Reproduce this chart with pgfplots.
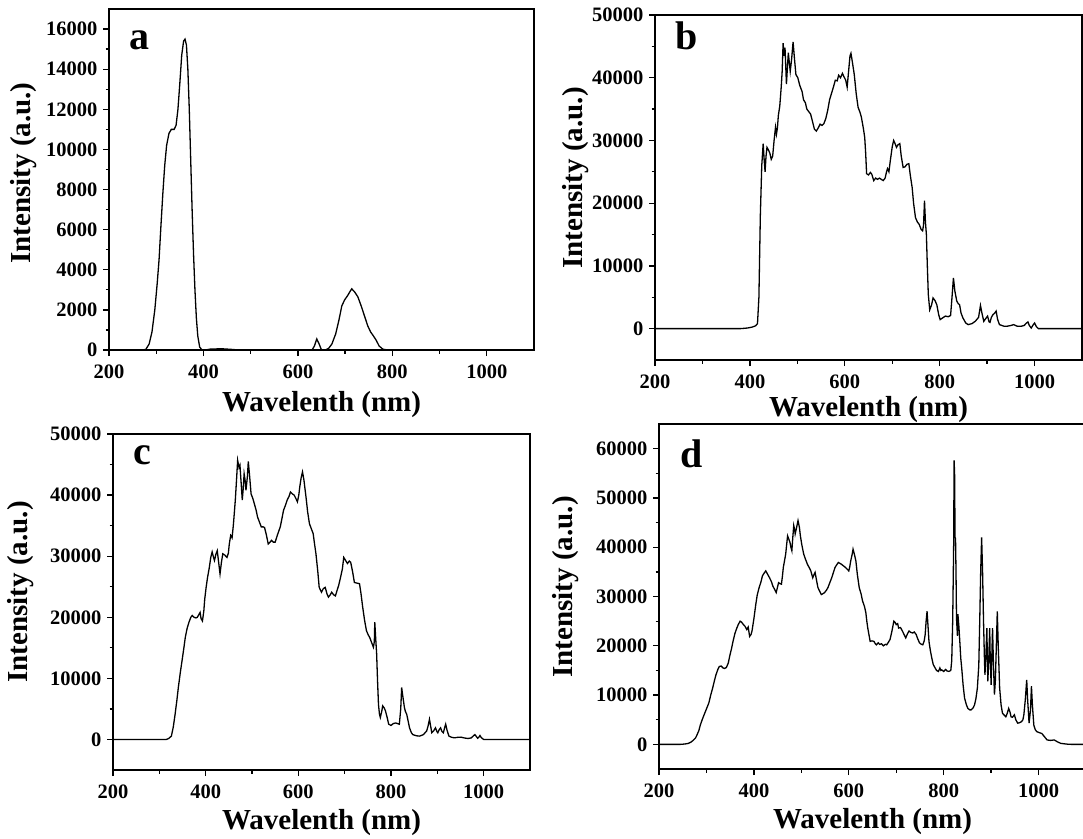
\documentclass[border=0pt]{standalone}
\usepackage{fontspec}
\setmainfont{Liberation Serif}
\usepackage{pgfplots}
\pgfplotsset{compat=1.18}
\tikzset{letter/.style={font=\fontsize{40}{40}\selectfont\bfseries, anchor=base west, inner sep=0pt}}
\pgfplotsset{
  panel/.style={
    scale only axis,
    xmin=200, xmax=1100,
    xtick={200,400,600,800,1000},
    minor x tick num=1,
    minor y tick num=1,
    axis line style={line width=1.6pt},
    every tick/.style={line width=1.3pt, black},
    major tick length=6pt,
    minor tick length=3.5pt,
    tick align=outside,
    tick pos=left,
    tick label style={font=\fontsize{20.5}{20.5}\selectfont\bfseries},
    xticklabel style={yshift=-5pt},
    yticklabel style={xshift=-2pt},
    /pgf/number format/assume math mode=true,
    /pgf/number format/set thousands separator={},
    scaled y ticks=false,
    label style={font=\fontsize{29}{29}\selectfont\bfseries},
    xlabel={Wavelenth (nm)},
    ylabel={Intensity (a.u.)},
    every axis plot post/.append style={line width=1.3pt, black, mark=none},
  },
}
\begin{document}
\begin{tikzpicture}
% ---------- panel a ----------
\begin{axis}[panel, at={(109pt,-350pt)}, anchor=south west, width=425pt, height=341pt,
  ymin=0, ymax=17000, ytick={0,2000,...,16000},
  xlabel style={at={(axis description cs:0.5,-0.16)}, anchor=center},
  ylabel style={at={(axis description cs:-0.2,0.519)}, anchor=center}]
\addplot coordinates {(200,0)(270,0)(278,30)(285,300)(291,900)(297,2000)(302,3300)(306,4500)(310,6200)(314,7800)(318,9200)(322,10200)(327,10800)(332,11000)(338,11000)(342,11200)(346,12000)(350,13300)(354,14700)(358,15400)(361,15500)(364,15200)(367,14000)(370,12000)(373,9500)(376,7000)(379,4800)(382,3000)(385,1600)(388,700)(392,150)(397,0)(405,0)(415,50)(440,60)(460,30)(475,0)(630,0)(635,200)(640,550)(645,300)(650,0)(658,0)(665,80)(672,300)(680,800)(687,1500)(693,2200)(699,2500)(705,2700)(710,2900)(714,3050)(720,2900)(727,2650)(734,2200)(741,1700)(748,1200)(754,900)(760,700)(766,480)(772,200)(780,40)(790,0)(1100,0)};
\node[letter] at (rel axis cs:0.047,0.88) {a};
\end{axis}
% ---------- panel b ----------
\begin{axis}[panel, at={(655pt,-360pt)}, anchor=south west, width=427pt, height=345pt,
  ymin=-5000, ymax=50000, ytick={0,10000,...,50000},
  xlabel style={at={(axis description cs:0.5,-0.143)}, anchor=center},
  ylabel style={at={(axis description cs:-0.187,0.528)}, anchor=center}]
\addplot coordinates {(200,0)(380,0)(395,100)(405,250)(412,450)(416,800)(419,5000)(422,18000)(425,26000)(428,29500)(430,27000)(432,25000)(434,27500)(436,28900)(439,28500)(442,28000)(445,27000)(448,27500)(451,30000)(454,32100)(456,31000)(458,32000)(460,34000)(463,35500)(466,38500)(468,41000)(470,45500)(472,43500)(474,44800)(476,41000)(477,39000)(479,41500)(481,44000)(483,42500)(485,41000)(488,43000)(491,45700)(494,43000)(497,40500)(501,40000)(505,38800)(510,37800)(513,36500)(517,36000)(520,35000)(524,34600)(528,34200)(532,33000)(536,31800)(540,31500)(544,32000)(548,32600)(552,32400)(556,32700)(560,33500)(564,34800)(568,36500)(572,37500)(576,38500)(580,39600)(584,39500)(587,40400)(591,40000)(595,40700)(598,40200)(602,39600)(605,38500)(608,41000)(611,43500)(613,43900)(616,42500)(620,40500)(624,37500)(628,35300)(632,34500)(635,33700)(639,32000)(642,30500)(644,28000)(646,24700)(650,24500)(654,24900)(657,24600)(661,23600)(665,24000)(669,23800)(673,24000)(677,23800)(681,23600)(685,24000)(688,25000)(690,25500)(693,25000)(696,26800)(700,29000)(703,30000)(706,29500)(709,28900)(712,29300)(716,29500)(719,27500)(723,25700)(727,25800)(731,26200)(735,26300)(738,24500)(742,22500)(745,20000)(749,17700)(753,17000)(757,16600)(761,15800)(764,15600)(766,16500)(768,20400)(770,17000)(772,15000)(774,10000)(776,5500)(779,3000)(783,3800)(786,4900)(790,4500)(794,3800)(798,2200)(801,1440)(806,1700)(812,2000)(818,1900)(823,2100)(826,5000)(829,8100)(832,6000)(836,4400)(839,4000)(842,3800)(845,2500)(849,1700)(855,900)(860,640)(868,800)(875,1170)(882,1800)(886,3700)(889,2500)(893,1170)(897,1600)(901,2000)(904,1100)(906,1000)(909,1800)(912,2200)(916,2500)(919,2800)(922,1500)(926,640)(935,400)(941,370)(950,500)(956,640)(963,400)(971,370)(978,500)(983,900)(986,1070)(989,500)(993,100)(997,600)(1000,900)(1004,300)(1008,0)(1100,0)};
\node[letter] at (rel axis cs:0.047,0.899) {b};
\end{axis}
% ---------- panel c ----------
\begin{axis}[panel, at={(113pt,-770pt)}, anchor=south west, width=417pt, height=336pt,
  ymin=-5000, ymax=50000, ytick={0,10000,...,50000},
  xlabel style={at={(axis description cs:0.5,-0.156)}, anchor=center},
  ylabel style={at={(axis description cs:-0.221,0.53)}, anchor=center}]
\addplot coordinates {(200,0)(315,0)(320,150)(326,550)(330,2000)(334,4100)(338,6500)(341,8500)(345,10800)(349,12900)(353,15000)(356,16700)(360,18200)(364,19200)(368,20000)(371,20300)(375,20000)(379,19900)(382,20000)(385,20400)(388,20800)(390,19800)(393,19400)(396,21000)(398,23000)(401,24900)(404,26500)(408,28200)(411,29800)(414,30700)(417,29800)(419,29300)(422,30300)(425,30900)(428,29000)(431,27100)(434,29000)(437,30400)(441,30200)(446,29800)(449,30500)(451,32000)(454,33400)(457,33000)(460,35300)(464,39200)(467,43000)(469,45700)(472,44500)(474,44900)(477,41500)(479,39200)(481,41000)(483,43500)(485,42500)(487,40800)(490,43000)(492,45500)(495,43000)(498,40200)(502,39400)(505,38600)(509,37500)(512,36400)(516,35600)(520,34800)(524,34800)(527,34700)(531,33500)(535,32000)(539,32300)(542,32600)(546,32300)(550,32300)(555,33500)(561,34800)(565,36300)(568,37500)(572,38300)(576,39200)(580,39800)(583,40500)(587,40200)(591,40000)(595,39400)(598,38900)(601,40000)(603,41300)(606,42800)(609,43800)(612,42500)(617,39400)(620,37300)(624,35300)(628,34500)(632,33700)(635,32000)(638,30400)(642,27500)(645,24900)(650,24100)(654,24700)(658,24900)(662,23800)(665,23300)(669,23700)(672,24100)(676,23700)(680,23500)(684,24500)(687,25200)(691,26500)(695,27900)(698,29800)(702,29300)(706,28800)(710,29200)(713,29000)(717,27500)(721,25700)(726,25600)(732,25500)(735,24000)(739,21600)(743,19500)(747,17800)(751,17100)(754,16700)(758,15900)(762,15100)(764,16000)(765,19200)(767,16500)(769,14000)(771,9500)(773,5700)(775,4200)(777,3600)(780,4600)(782,5500)(785,5200)(788,4700)(792,3500)(795,2500)(800,2300)(805,2600)(810,2700)(814,2600)(818,2500)(821,5000)(823,8500)(826,6800)(829,5200)(831,4600)(834,4100)(837,3000)(840,1900)(844,1100)(847,800)(855,600)(862,550)(870,800)(877,1400)(880,2200)(883,3300)(886,2000)(888,1100)(892,1400)(896,1900)(899,1300)(901,1100)(904,1600)(907,1900)(910,1300)(913,1100)(916,2000)(918,2500)(921,1500)(925,550)(931,350)(937,270)(944,350)(951,380)(958,250)(966,160)(973,250)(978,600)(981,800)(984,500)(987,200)(990,400)(992,650)(995,300)(1000,0)(1100,0)};
\node[letter] at (rel axis cs:0.048,0.908) {c};
\end{axis}
% ---------- panel d ----------
\begin{axis}[panel, at={(659pt,-769pt)}, anchor=south west, width=427pt, height=345pt,
  ymin=-5000, ymax=65000, ytick={0,10000,...,60000},
  xlabel style={at={(axis description cs:0.5,-0.153)}, anchor=center},
  ylabel style={at={(axis description cs:-0.219,0.528)}, anchor=center}]
\addplot coordinates {(200,0)(245,0)(255,80)(262,200)(268,500)(273,900)(277,1300)(280,1900)(284,2800)(287,3900)(291,5000)(295,6000)(300,7200)(305,8400)(309,10000)(313,11400)(317,13000)(320,14100)(324,15200)(327,15800)(331,15900)(335,15500)(338,15400)(342,15600)(346,16500)(349,17900)(353,19500)(356,20900)(360,22500)(364,23600)(367,24300)(371,25000)(374,24800)(378,24300)(381,24000)(385,23300)(388,23800)(391,21900)(394,22300)(396,23000)(400,25500)(404,28400)(407,30300)(411,31800)(415,33000)(418,34200)(422,34800)(425,35200)(429,34500)(433,33800)(437,33000)(440,32100)(444,31400)(447,30800)(450,32000)(452,32800)(455,32600)(458,32500)(460,34000)(462,35900)(465,37500)(467,38600)(469,40500)(471,42300)(473,41800)(476,41000)(478,40000)(480,39300)(482,42000)(484,44400)(486,43500)(487,42700)(490,44000)(493,45400)(496,44000)(498,42300)(501,40500)(505,38600)(509,37500)(513,36500)(517,35800)(520,35200)(522,34500)(524,33800)(527,34500)(529,34900)(532,33300)(535,31800)(539,31000)(542,30400)(546,30600)(549,30800)(553,31300)(556,31800)(560,32800)(564,33800)(568,35000)(571,35900)(575,36500)(578,36900)(582,36700)(585,36500)(589,36200)(593,35900)(597,35500)(600,35200)(602,36000)(604,37200)(607,38500)(609,39600)(612,38500)(615,37200)(618,34500)(622,31800)(626,30500)(629,29100)(633,28000)(636,26700)(638,25000)(640,23600)(643,22000)(645,20900)(649,21000)(653,20900)(656,20400)(658,20200)(662,20600)(665,20300)(669,20400)(673,20000)(677,20300)(680,20200)(684,20800)(687,21300)(691,23000)(695,25000)(698,24700)(700,24300)(703,24500)(705,23600)(709,23700)(713,23000)(717,22200)(720,21600)(724,22500)(727,23000)(731,22700)(735,22600)(738,22800)(742,22300)(745,21500)(749,20600)(753,20300)(756,20200)(759,21000)(761,22300)(763,25000)(765,27000)(767,24000)(769,20900)(772,19000)(775,17500)(778,16200)(782,15500)(785,15000)(789,14800)(792,15500)(794,15000)(796,15100)(800,14800)(804,15200)(807,14900)(811,14800)(815,15000)(817,17000)(819,25000)(821,40000)(822,57600)(823,55000)(824,42000)(825,41800)(826,35000)(827,25700)(829,22000)(830,26400)(832,24000)(834,20900)(836,17500)(838,15500)(841,12000)(844,9400)(848,8000)(851,7300)(855,7000)(858,7000)(862,7400)(865,8000)(868,9300)(871,11400)(874,16000)(876,25000)(878,35000)(880,42000)(882,35000)(884,25000)(886,17000)(887,14100)(889,18000)(891,23600)(892,18000)(893,12800)(895,17000)(897,23600)(898,18000)(900,12100)(901,16000)(903,23600)(905,16000)(907,10100)(909,13000)(911,20000)(913,27000)(915,20000)(918,11400)(921,8000)(924,6300)(927,6000)(931,5600)(934,6300)(937,7300)(940,6500)(942,5600)(945,5500)(949,6000)(952,5000)(956,4300)(960,4400)(964,4600)(967,5000)(969,6000)(972,9000)(975,13100)(977,9000)(980,4300)(983,7000)(985,11800)(987,8000)(990,3900)(993,3000)(996,2600)(1001,2400)(1007,2200)(1012,1600)(1018,900)(1025,800)(1033,900)(1040,500)(1047,200)(1060,50)(1069,0)(1100,0)};
\node[letter] at (rel axis cs:0.05,0.875) {d};
\end{axis}
\pgfresetboundingbox
\path[use as bounding box] (0pt,0pt) rectangle (1083pt,-838pt);
\end{tikzpicture}
\end{document}
